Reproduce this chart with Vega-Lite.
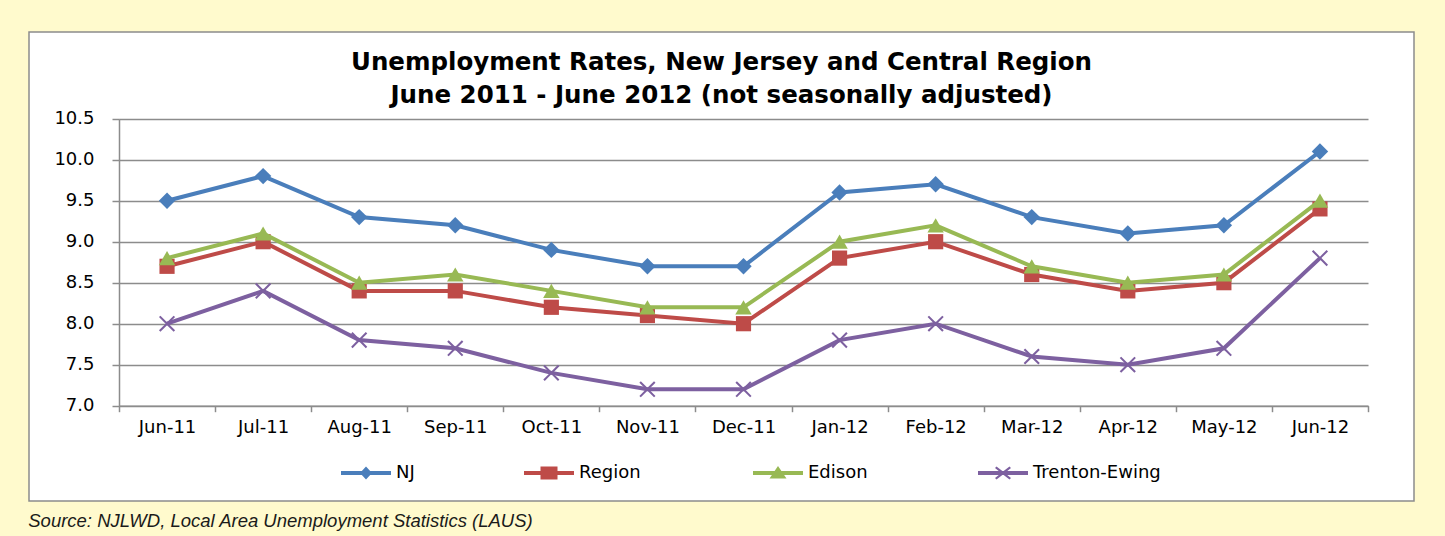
{
  "$schema": "https://vega.github.io/schema/vega-lite/v6.json",
  "background": "#FFFACD",
  "padding": {"left": 28, "top": 31, "right": 31, "bottom": 5},
  "title": {
    "text": "Source: NJLWD, Local Area Unemployment Statistics (LAUS)",
    "orient": "bottom",
    "anchor": "start",
    "font": "Liberation Sans",
    "fontSize": 18.5,
    "fontStyle": "italic",
    "fontWeight": "normal",
    "color": "#1a1a1a",
    "offset": 10
  },
  "data": {
    "values": [
      {"month": "Jun-11", "series": "NJ", "value": 9.5},
      {"month": "Jul-11", "series": "NJ", "value": 9.8},
      {"month": "Aug-11", "series": "NJ", "value": 9.3},
      {"month": "Sep-11", "series": "NJ", "value": 9.2},
      {"month": "Oct-11", "series": "NJ", "value": 8.9},
      {"month": "Nov-11", "series": "NJ", "value": 8.7},
      {"month": "Dec-11", "series": "NJ", "value": 8.7},
      {"month": "Jan-12", "series": "NJ", "value": 9.6},
      {"month": "Feb-12", "series": "NJ", "value": 9.7},
      {"month": "Mar-12", "series": "NJ", "value": 9.3},
      {"month": "Apr-12", "series": "NJ", "value": 9.1},
      {"month": "May-12", "series": "NJ", "value": 9.2},
      {"month": "Jun-12", "series": "NJ", "value": 10.1},
      {"month": "Jun-11", "series": "Region", "value": 8.7},
      {"month": "Jul-11", "series": "Region", "value": 9.0},
      {"month": "Aug-11", "series": "Region", "value": 8.4},
      {"month": "Sep-11", "series": "Region", "value": 8.4},
      {"month": "Oct-11", "series": "Region", "value": 8.2},
      {"month": "Nov-11", "series": "Region", "value": 8.1},
      {"month": "Dec-11", "series": "Region", "value": 8.0},
      {"month": "Jan-12", "series": "Region", "value": 8.8},
      {"month": "Feb-12", "series": "Region", "value": 9.0},
      {"month": "Mar-12", "series": "Region", "value": 8.6},
      {"month": "Apr-12", "series": "Region", "value": 8.4},
      {"month": "May-12", "series": "Region", "value": 8.5},
      {"month": "Jun-12", "series": "Region", "value": 9.4},
      {"month": "Jun-11", "series": "Edison", "value": 8.8},
      {"month": "Jul-11", "series": "Edison", "value": 9.1},
      {"month": "Aug-11", "series": "Edison", "value": 8.5},
      {"month": "Sep-11", "series": "Edison", "value": 8.6},
      {"month": "Oct-11", "series": "Edison", "value": 8.4},
      {"month": "Nov-11", "series": "Edison", "value": 8.2},
      {"month": "Dec-11", "series": "Edison", "value": 8.2},
      {"month": "Jan-12", "series": "Edison", "value": 9.0},
      {"month": "Feb-12", "series": "Edison", "value": 9.2},
      {"month": "Mar-12", "series": "Edison", "value": 8.7},
      {"month": "Apr-12", "series": "Edison", "value": 8.5},
      {"month": "May-12", "series": "Edison", "value": 8.6},
      {"month": "Jun-12", "series": "Edison", "value": 9.5},
      {"month": "Jun-11", "series": "Trenton-Ewing", "value": 8.0},
      {"month": "Jul-11", "series": "Trenton-Ewing", "value": 8.4},
      {"month": "Aug-11", "series": "Trenton-Ewing", "value": 7.8},
      {"month": "Sep-11", "series": "Trenton-Ewing", "value": 7.7},
      {"month": "Oct-11", "series": "Trenton-Ewing", "value": 7.4},
      {"month": "Nov-11", "series": "Trenton-Ewing", "value": 7.2},
      {"month": "Dec-11", "series": "Trenton-Ewing", "value": 7.2},
      {"month": "Jan-12", "series": "Trenton-Ewing", "value": 7.8},
      {"month": "Feb-12", "series": "Trenton-Ewing", "value": 8.0},
      {"month": "Mar-12", "series": "Trenton-Ewing", "value": 7.6},
      {"month": "Apr-12", "series": "Trenton-Ewing", "value": 7.5},
      {"month": "May-12", "series": "Trenton-Ewing", "value": 7.7},
      {"month": "Jun-12", "series": "Trenton-Ewing", "value": 8.8}
    ]
  },
  "vconcat": [
    {
      "width": 1385,
      "height": 469,
      "title": {
        "text": ["Unemployment Rates, New Jersey and Central Region", "June 2011 - June 2012 (not seasonally adjusted)"],
        "orient": "top",
        "anchor": "middle",
        "frame": "group",
        "font": "DejaVu Sans",
        "fontSize": 24.5,
        "fontWeight": "bold",
        "color": "black",
        "lineHeight": 33,
        "offset": -76
      },
      "encoding": {
        "x": {
          "field": "month",
          "type": "nominal",
          "sort": null,
          "scale": {
            "type": "band",
            "domain": ["Jun-11", "Jul-11", "Aug-11", "Sep-11", "Oct-11", "Nov-11", "Dec-11", "Jan-12", "Feb-12", "Mar-12", "Apr-12", "May-12", "Jun-12"],
            "range": [90, 1339],
            "paddingInner": 0,
            "paddingOuter": 0
          },
          "axis": {
            "title": null,
            "offset": -95.3,
            "tickBand": "extent",
            "grid": false,
            "labelAngle": 0,
            "tickSize": 6,
            "labelPadding": 7
          }
        },
        "y": {
          "field": "value",
          "type": "quantitative",
          "scale": {"domain": [7, 10.5], "range": [373.7, 86.7], "nice": false, "zero": false},
          "axis": {
            "title": null,
            "offset": -90,
            "values": [7, 7.5, 8, 8.5, 9, 9.5, 10, 10.5],
            "format": ".1f",
            "grid": true,
            "tickSize": 7,
            "labelPadding": 18
          }
        }
      },
      "layer": [
        {
          "transform": [{"filter": {"field": "series", "equal": "NJ"}}],
          "layer": [
            {"mark": {"type": "line", "color": "#4A7EBB", "strokeWidth": 4}, "encoding": {}},
            {
              "mark": {"type": "point", "filled": true, "shape": "diamond", "size": 270, "opacity": 1},
              "encoding": {
                "color": {
                  "field": "series", "type": "nominal",
                  "scale": {"domain": ["NJ"], "range": ["#4A7EBB"]},
                  "legend": {"title": null, "orient": "none", "legendX": 312, "legendY": 416, "symbolType": "M-1,-0.08H1V0.08H-1Z M0,-0.26L0.24,0L0,0.26L-0.24,0Z"}
                }
              }
            }
          ]
        },
        {
          "transform": [{"filter": {"field": "series", "equal": "Region"}}],
          "layer": [
            {"mark": {"type": "line", "color": "#BE4B48", "strokeWidth": 4}, "encoding": {}},
            {
              "mark": {"type": "point", "filled": true, "shape": "square", "size": 230, "opacity": 1},
              "encoding": {
                "color": {
                  "field": "series", "type": "nominal",
                  "scale": {"domain": ["Region"], "range": ["#BE4B48"]},
                  "legend": {"title": null, "orient": "none", "legendX": 495, "legendY": 416, "symbolType": "M-1,-0.08H1V0.08H-1Z M-0.34,-0.26H0.34V0.26H-0.34Z"}
                }
              }
            }
          ]
        },
        {
          "transform": [{"filter": {"field": "series", "equal": "Edison"}}],
          "layer": [
            {"mark": {"type": "line", "color": "#98B954", "strokeWidth": 4}, "encoding": {}},
            {
              "mark": {"type": "point", "filled": true, "shape": "triangle-up", "size": 270, "opacity": 1},
              "encoding": {
                "color": {
                  "field": "series", "type": "nominal",
                  "scale": {"domain": ["Edison"], "range": ["#98B954"]},
                  "legend": {"title": null, "orient": "none", "legendX": 724, "legendY": 416, "symbolType": "M-1,-0.08H1V0.08H-1Z M0,-0.28L0.34,0.22H-0.34Z"}
                }
              }
            }
          ]
        },
        {
          "transform": [{"filter": {"field": "series", "equal": "Trenton-Ewing"}}],
          "layer": [
            {"mark": {"type": "line", "color": "#7D60A0", "strokeWidth": 4}, "encoding": {}},
            {
              "mark": {"type": "point", "filled": true, "shape": "M-1,-0.82L-0.82,-1L0,-0.18L0.82,-1L1,-0.82L0.18,0L1,0.82L0.82,1L0,0.18L-0.82,1L-1,0.82L-0.18,0Z", "size": 260, "opacity": 1},
              "encoding": {
                "color": {
                  "field": "series", "type": "nominal",
                  "scale": {"domain": ["Trenton-Ewing"], "range": ["#7D60A0"]},
                  "legend": {"title": null, "orient": "none", "legendX": 949, "legendY": 416, "symbolType": "M-1,-0.08H1V0.08H-1Z M-0.32,-0.2L-0.26,-0.26L0,-0.06L0.26,-0.26L0.32,-0.2L0.07,0L0.32,0.2L0.26,0.26L0,0.06L-0.26,0.26L-0.32,0.2L-0.07,0Z"}
                }
              }
            }
          ]
        }
      ],
      "resolve": {"scale": {"color": "independent"}, "legend": {"color": "independent"}}
    }
  ],
  "config": {
    "view": {"fill": "white", "stroke": "#8c8c8c", "strokeWidth": 1.5},
    "axis": {
      "domainColor": "#8c8c8c",
      "domainWidth": 1.5,
      "tickColor": "#8c8c8c",
      "tickWidth": 1.5,
      "gridColor": "#8c8c8c",
      "gridWidth": 1.3,
      "labelFont": "DejaVu Sans",
      "labelFontSize": 18,
      "labelColor": "black"
    },
    "legend": {
      "direction": "horizontal",
      "symbolSize": 2500,
      "symbolStrokeWidth": 0,
      "symbolOpacity": 1,
      "labelFont": "DejaVu Sans",
      "labelFontSize": 18,
      "labelColor": "black",
      "labelOffset": 5,
      "labelLimit": 300
    }
  }
}
